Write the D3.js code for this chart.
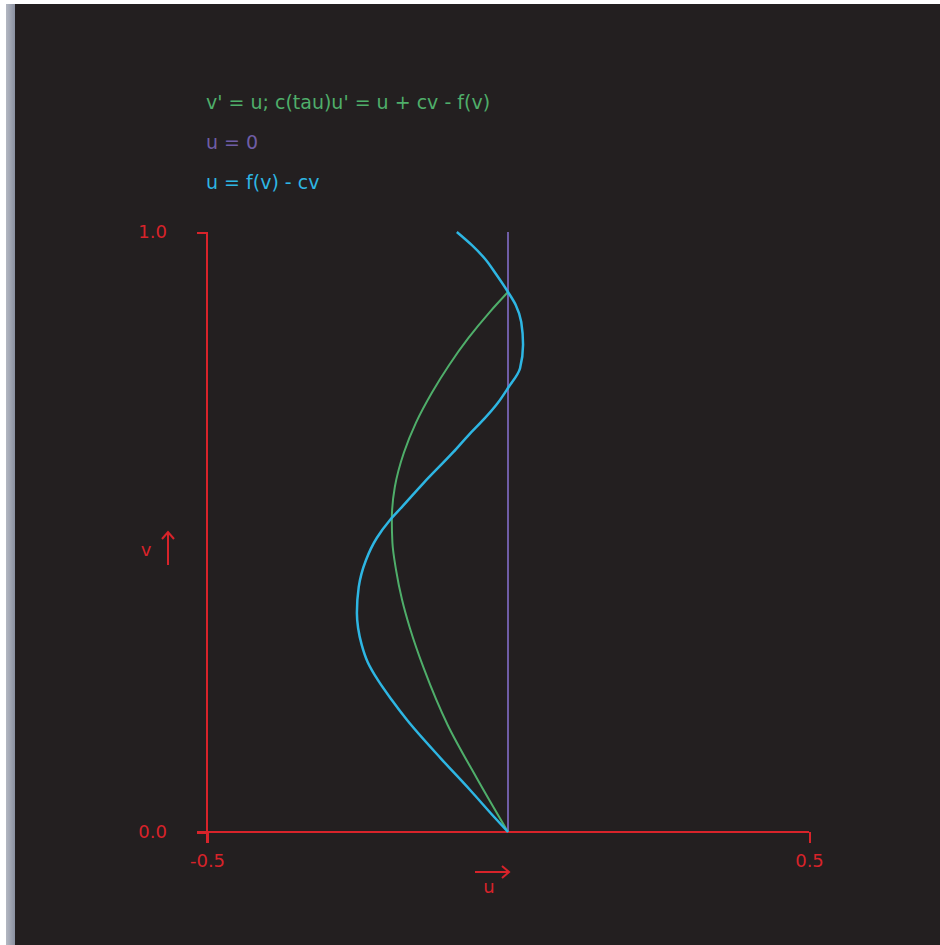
<!DOCTYPE html>
<html>
<head>
<meta charset="utf-8">
<script src="https://cdn.jsdelivr.net/npm/d3@7"></script>
<style>
  html, body { margin: 0; padding: 0; background: #ffffff; }
  svg { display: block; }
</style>
</head>
<body>
<svg id="chart" width="940" height="945"></svg>
<script>
// Phase-plane picture of the travelling-wave system in (u, v).
const xTicks = [-0.5, 0.5];
const yTicks = [0.0, 1.0];
const legendLabels = ["v' = u; c(tau)u' = u + cv - f(v)", "u = 0", "u = f(v) - cv"];

// trajectory of v' = u; c(tau)u' = u + cv - f(v), as (u, v)
const trajU = [0, -0.030, -0.066, -0.098, -0.126, -0.153, -0.173, -0.188, -0.193, -0.192, -0.186, -0.176, -0.163, -0.140, -0.100, -0.052, 0];
const trajV = [0.900, 0.867, 0.823, 0.778, 0.733, 0.682, 0.632, 0.575, 0.520, 0.482, 0.437, 0.387, 0.340, 0.273, 0.178, 0.090, 0];

// nullcline u = 0
const nullU = [0, 0];
const nullV = [0, 1];

// nullcline u = f(v) - cv
const cubicU = [-0.085, -0.060, -0.038, -0.020, 0, 0.013, 0.022, 0.025, 0.020, 0, -0.017, -0.040, -0.065, -0.091, -0.140, -0.176, -0.196, -0.218, -0.236, -0.248, -0.251, -0.249, -0.243, -0.233, -0.216, -0.193, -0.168, -0.111, -0.063, -0.023, 0];
const cubicV = [1.000, 0.978, 0.955, 0.930, 0.900, 0.878, 0.850, 0.812, 0.773, 0.740, 0.715, 0.688, 0.662, 0.633, 0.582, 0.542, 0.520, 0.490, 0.453, 0.408, 0.365, 0.340, 0.312, 0.283, 0.253, 0.220, 0.187, 0.122, 0.070, 0.025, 0];

const colors = { traj: "#4fae6a", nullU: "#6f5da6", cubic: "#2eb6e3", axis: "#d8232a" };
const font = "'DejaVu Sans', Verdana, sans-serif";

const svg = d3.select("#chart");

// window frame: white margin, grey strip on the left, dark panel
svg.append("rect").attr("x", 0).attr("y", 0).attr("width", 940).attr("height", 945).attr("fill", "#ffffff");
const strip = svg.append("defs").append("linearGradient").attr("id", "strip");
strip.append("stop").attr("offset", "0%").attr("stop-color", "#b4b8c2");
strip.append("stop").attr("offset", "100%").attr("stop-color", "#8a90a0");
svg.append("rect").attr("x", 6).attr("y", 4).attr("width", 9).attr("height", 941).attr("fill", "url(#strip)");
svg.append("rect").attr("x", 15).attr("y", 4).attr("width", 925).attr("height", 941).attr("fill", "#231f20");

const x = d3.scaleLinear().domain([-0.5, 0.5]).range([207, 809]);
const y = d3.scaleLinear().domain([0, 1]).range([832, 232]);

// tick labels use a plain hyphen for negatives
const fmt = d => d3.format(".1f")(d).replace("\u2212", "-");

// axes
const xAxis = d3.axisBottom(x).tickValues(xTicks).tickFormat(fmt).tickSize(11).tickSizeOuter(0).tickPadding(8);
const yAxis = d3.axisLeft(y).tickValues(yTicks).tickFormat(fmt).tickSize(10).tickSizeOuter(0).tickPadding(30);

const gx = svg.append("g").attr("transform", `translate(0,${y(0)})`).call(xAxis);
const gy = svg.append("g").attr("transform", `translate(${x(-0.5)},0)`).call(yAxis);
[gx, gy].forEach(g => {
  g.selectAll("path, line").attr("stroke", colors.axis).attr("stroke-width", 2).attr("shape-rendering", "crispEdges");
  g.selectAll("text").attr("fill", colors.axis).attr("font-family", font).attr("font-size", 18);
});
// x-axis line reaches a little left of the v-axis, forming the 0.0 tick
gx.select(".domain").attr("d", `M${x(-0.5) - 10},0H${x(0.5)}`);
gy.select(".domain").attr("d", `M0,${y(1)}V${y(0) + 11}`);
gy.selectAll(".tick text").attr("text-anchor", "end").attr("x", -40);
gx.selectAll(".tick text").attr("dy", "0.9em");

// axis name arrows
const arrowG = svg.append("g").attr("stroke", colors.axis).attr("stroke-width", 2).attr("fill", "none");
arrowG.append("path").attr("d", "M475,872H509M502,866L509,872L502,878");
arrowG.append("path").attr("d", "M168,565V532M162,539L168,532L174,539");
svg.append("text").attr("x", 489).attr("y", 893).attr("text-anchor", "middle")
  .attr("fill", colors.axis).attr("font-family", font).attr("font-size", 18).text("u");
svg.append("text").attr("x", 146).attr("y", 556).attr("text-anchor", "middle")
  .attr("fill", colors.axis).attr("font-family", font).attr("font-size", 18).text("v");

// curves
const line = d3.line().x(d => x(d[0])).y(d => y(d[1])).curve(d3.curveMonotoneY);
const series = [
  { u: nullU, v: nullV, color: colors.nullU, w: 2 },
  { u: trajU, v: trajV, color: colors.traj, w: 2 },
  { u: cubicU, v: cubicV, color: colors.cubic, w: 2.5 }
];
series.forEach(s => {
  const pts = s.u.map((u, i) => [u, s.v[i]]);
  svg.append("path").datum(pts)
    .attr("d", line)
    .attr("fill", "none").attr("stroke", s.color).attr("stroke-width", s.w);
});

// legend
const legendColors = [colors.traj, colors.nullU, colors.cubic];
svg.append("g").selectAll("text").data(legendLabels).join("text")
  .attr("x", 206).attr("y", (d, i) => 109 + i * 40)
  .attr("fill", (d, i) => legendColors[i])
  .attr("font-family", font).attr("font-size", 19)
  .text(d => d);
</script>
</body>
</html>
